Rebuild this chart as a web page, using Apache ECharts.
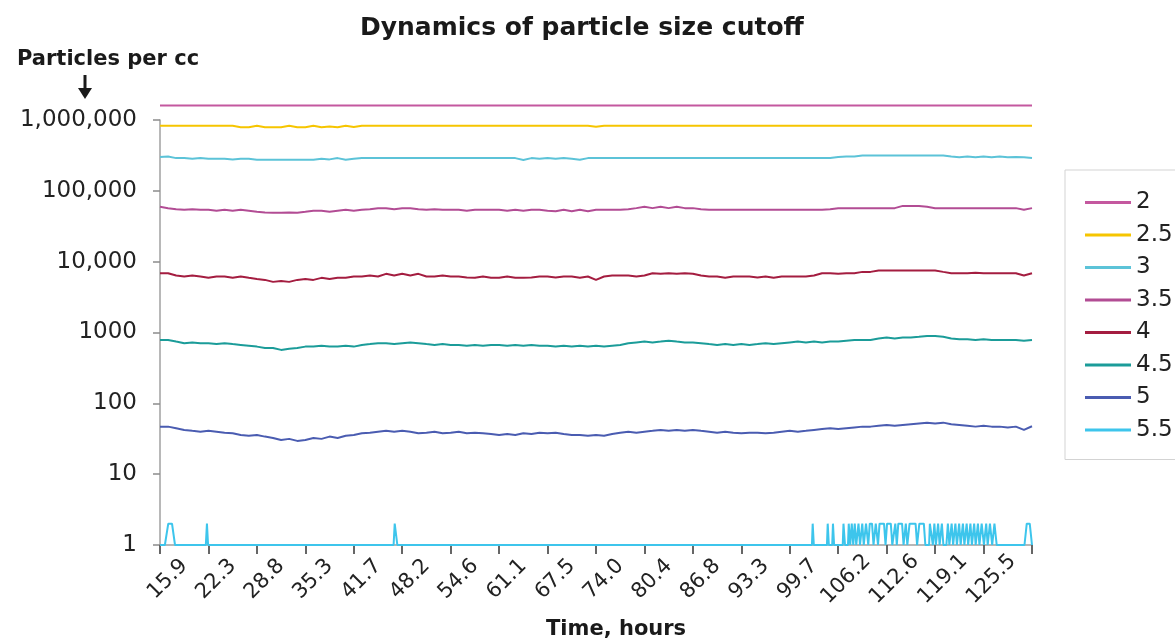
<!DOCTYPE html>
<html>
<head>
<meta charset="utf-8">
<script src="https://cdn.jsdelivr.net/npm/echarts@6/dist/echarts.min.js"></script>
<style>
  html, body { margin: 0; padding: 0; background: #fff; }
  #chart { width: 1175px; height: 640px; }
</style>
</head>
<body>
<div id="chart"></div>
<script>
// x axis: hours, one tick every 6.45 h starting at 15.9 h
var tickLabels = ['15.9', '22.3', '28.8', '35.3', '41.7', '48.2', '54.6', '61.1', '67.5',
  '74.0', '80.4', '86.8', '93.3', '99.7', '106.2', '112.6', '119.1', '125.5'];
var yTickLabels = ['1', '10', '100', '1000', '10,000', '100,000', '1,000,000'];
var startHour = 15.9;
var tickStepHours = 6.45;
var samplesPerTick = 6;   // readings per tick interval for the sampled lines

var sizes = ['2', '2.5', '3', '3.5', '4', '4.5', '5', '5.5'];
var colors = ['#c4589f', '#f6c500', '#5cc3d8', '#b24c94', '#a41d40', '#1b9c99', '#4a5cb1', '#3dc5ec'];

// 2 um: flat
var size2Hours = [15.9, 132.0];
var size2 = [1600000, 1600000];

// sampled lines, one row per tick interval (6 readings), plus the last reading
var size25 = [
  828000, 828000, 828000, 828000, 828000, 828000,
  828000, 828000, 828000, 828000, 790000, 790000,
  828000, 790000, 790000, 790000, 828000, 790000,
  790000, 828000, 790000, 810000, 790000, 828000,
  795000, 828000, 828000, 828000, 828000, 828000,
  828000, 828000, 828000, 828000, 828000, 828000,
  828000, 828000, 828000, 828000, 828000, 828000,
  828000, 828000, 828000, 828000, 828000, 828000,
  828000, 828000, 828000, 828000, 828000, 828000,
  805000, 828000, 828000, 828000, 828000, 828000,
  828000, 828000, 828000, 828000, 828000, 828000,
  828000, 828000, 828000, 828000, 828000, 828000,
  828000, 828000, 828000, 828000, 828000, 828000,
  828000, 828000, 828000, 828000, 828000, 828000,
  828000, 828000, 828000, 828000, 828000, 828000,
  828000, 828000, 828000, 828000, 828000, 828000,
  828000, 828000, 828000, 828000, 828000, 828000,
  828000, 828000, 828000, 828000, 828000, 828000,
  828000
];
var size3 = [
  300000, 305000, 289700, 289700, 283000, 289700,
  283000, 283000, 283000, 278000, 283000, 283000,
  274000, 274000, 274000, 274000, 274000, 274000,
  274000, 274000, 283000, 278000, 289700, 274000,
  283000, 289700, 289700, 289700, 289700, 289700,
  289700, 289700, 289700, 289700, 289700, 289700,
  289700, 289700, 289700, 289700, 289700, 289700,
  289700, 289700, 289700, 272000, 289700, 283000,
  289700, 283000, 289700, 283000, 274000, 289700,
  289700, 289700, 289700, 289700, 289700, 289700,
  289700, 289700, 289700, 289700, 289700, 289700,
  289700, 289700, 289700, 289700, 289700, 289700,
  289700, 289700, 289700, 289700, 289700, 289700,
  289700, 289700, 289700, 289700, 289700, 289700,
  300000, 305000, 305000, 315000, 315000, 315000,
  315000, 315000, 315000, 315000, 315000, 315000,
  315000, 315000, 305000, 297000, 305000, 297000,
  305000, 297000, 305000, 297000, 300000, 297000,
  290000
];
var size35 = [
  59400, 56970, 55000, 53950, 55000, 53950,
  53950, 52200, 53950, 52200, 53950, 52200,
  50500, 49440, 48900, 48900, 49440, 48900,
  50500, 52200, 52200, 50500, 52200, 53950,
  52200, 53950, 55000, 56970, 56970, 55000,
  56970, 56970, 55000, 53950, 55000, 53950,
  53950, 53950, 52200, 53950, 53950, 53950,
  53950, 52200, 53950, 52200, 53950, 53950,
  52200, 51500, 53950, 51500, 53950, 51500,
  53950, 53950, 53950, 53950, 55000, 57000,
  59400, 57000, 59400, 57000, 59400, 57000,
  57000, 55000, 53950, 53950, 53950, 53950,
  53950, 53950, 53950, 53950, 53950, 53950,
  53950, 53950, 53950, 53950, 53950, 55000,
  56970, 56970, 56970, 56970, 56970, 56970,
  56970, 56970, 61300, 61300, 61300, 59400,
  56970, 56970, 56970, 56970, 56970, 56970,
  56970, 56970, 56970, 56970, 56970, 53950,
  56970
];
var size4 = [
  6880, 6880, 6370, 6165, 6370, 6165,
  5907, 6165, 6165, 5907, 6165, 5907,
  5700, 5530, 5185, 5350, 5185, 5530,
  5700, 5530, 5907, 5700, 5907, 5907,
  6165, 6165, 6370, 6165, 6730, 6370,
  6730, 6370, 6730, 6165, 6165, 6370,
  6165, 6165, 6000, 5907, 6165, 5907,
  5907, 6165, 5907, 5907, 6000, 6165,
  6165, 6000, 6165, 6165, 5907, 6165,
  5530, 6165, 6370, 6370, 6370, 6165,
  6370, 6880, 6730, 6880, 6730, 6880,
  6730, 6370, 6165, 6165, 5907, 6165,
  6165, 6165, 6000, 6165, 5907, 6165,
  6165, 6165, 6165, 6370, 6880, 6880,
  6730, 6880, 6880, 7175, 7175, 7486,
  7486, 7486, 7486, 7486, 7486, 7486,
  7486, 7175, 6880, 6880, 6880, 7000,
  6880, 6880, 6880, 6880, 6880, 6370,
  6880
];
var size45 = [
  786, 786, 744, 706, 725, 706,
  706, 686, 706, 686, 668, 650,
  632, 606, 606, 568, 590, 606,
  632, 632, 650, 632, 632, 650,
  632, 668, 686, 706, 706, 686,
  706, 725, 706, 686, 668, 686,
  668, 668, 650, 668, 650, 668,
  668, 650, 668, 650, 668, 650,
  650, 632, 650, 632, 650, 632,
  650, 632, 650, 668, 706, 725,
  744, 725, 744, 766, 744, 725,
  725, 706, 686, 668, 686, 668,
  686, 668, 686, 706, 686, 706,
  725, 744, 725, 744, 725, 744,
  744, 766, 786, 786, 786, 825,
  847, 825, 847, 847, 870, 895,
  895, 870, 825, 804, 804, 786,
  804, 786, 786, 786, 786, 766,
  786
];
var size5 = [
  46.9, 46.9, 44.5, 42.1, 40.9, 39.8,
  40.9, 39.8, 38.5, 37.8, 35.8, 34.8,
  35.8, 33.9, 32.5, 30.4, 31.5, 29.5,
  30.4, 32.5, 31.5, 33.9, 32.5, 34.8,
  35.8, 37.8, 38.5, 39.8, 40.9, 39.8,
  40.9, 39.8, 37.8, 38.5, 39.8, 37.8,
  38.5, 39.8, 37.8, 38.5, 37.8, 36.8,
  35.8, 36.8, 35.8, 37.8, 36.8, 38.5,
  37.8, 38.5, 36.8, 35.8, 35.8, 34.8,
  35.8, 34.8, 36.8, 38.5, 39.8, 38.5,
  39.8, 40.9, 42.1, 40.9, 42.1, 40.9,
  42.1, 40.9, 39.8, 38.5, 39.8, 38.5,
  37.8, 38.5, 38.5, 37.8, 38.5, 39.8,
  40.9, 39.8, 40.9, 42.1, 43.3, 44.5,
  43.3, 44.5, 45.7, 46.9, 46.9, 48.2,
  49.5, 48.2, 49.5, 50.8, 52.1, 53.4,
  52.1, 53.4, 50.8, 49.5, 48.2, 46.9,
  48.2, 46.9, 46.9, 45.7, 46.9, 42.1,
  47.5
];

// 5.5 um: mostly 1 count, short bursts of 2
var size55Hours = [
  15.9, 16.55, 17.0, 17.5, 17.9, 22.0, 22.15, 22.3, 47.0, 47.15, 47.35, 47.5,
  102.7, 102.8, 102.95, 104.7, 104.8, 104.95, 105.4, 105.5, 105.65,
  106.8, 106.9, 107.1, 107.5, 107.6, 107.8, 108.0, 108.2, 108.4, 108.6, 108.9, 109.1,
  109.4, 109.6, 109.9, 110.2, 110.4, 110.7, 110.9, 111.2, 111.5, 111.7, 112.3,
  112.5, 112.7, 113.2, 113.4, 113.8, 114.0, 114.2, 114.7, 114.9, 115.2, 115.4, 115.6, 115.7, 116.5, 116.7,
  116.9, 117.0, 117.6, 117.8, 118.3, 118.4, 118.8, 119.0, 119.2, 119.5, 119.7,
  120.0, 120.2, 120.6, 120.8, 121.0, 121.3, 121.5, 121.8, 122.0, 122.3, 122.5,
  122.8, 123.0, 123.3, 123.5, 123.8, 124.0, 124.3, 124.5, 124.8, 125.0, 125.3,
  125.6, 125.9, 126.1, 126.4, 126.7, 127.0, 127.3, 131.0, 131.3, 131.7, 132.0
];
var size55 = [
  1, 1, 2, 2, 1, 1, 2, 1, 1, 2, 2, 1,
  1, 2, 1, 1, 2, 1, 1, 2, 1,
  1, 2, 1, 1, 2, 1, 2, 1, 2, 1, 2, 1,
  2, 1, 2, 1, 2, 2, 1, 2, 1, 2, 2,
  1, 2, 2, 1, 2, 1, 2, 2, 1, 2, 1, 1, 2, 2, 1,
  1, 2, 2, 1, 1, 2, 1, 2, 1, 2, 1,
  2, 1, 1, 2, 1, 2, 1, 2, 1, 2, 1,
  2, 1, 2, 1, 2, 1, 2, 1, 2, 1, 2,
  1, 2, 1, 2, 1, 2, 1, 1, 2, 2, 1
];

var FONT = 'DejaVu Sans';

// x values are hours past the first tick, so the axis starts at 0
function sampled(values) {
  return values.map(function (v, i) { return [i * tickStepHours / samplesPerTick, v]; });
}
function byHour(hours, values) {
  return hours.map(function (h, i) { return [h - startHour, values[i]]; });
}

var seriesData = [
  byHour(size2Hours, size2),
  sampled(size25),
  sampled(size3),
  sampled(size35),
  sampled(size4),
  sampled(size45),
  sampled(size5),
  byHour(size55Hours, size55)
];

var myChart = echarts.init(document.getElementById('chart'));
var option = {
  animation: false,
  backgroundColor: '#fff',
  title: [
    {
      text: 'Dynamics of particle size cutoff',
      left: 355, top: 11,
      textStyle: {fontFamily: FONT, fontSize: 25, fontWeight: 'bold', color: '#1a1a1a'}
    },
    {
      text: 'Particles per cc',
      left: 12, top: 44,
      textStyle: {fontFamily: FONT, fontSize: 21, fontWeight: 'bold', color: '#1a1a1a'}
    },
    {
      text: 'Time, hours',
      left: 541, top: 614,
      textStyle: {fontFamily: FONT, fontSize: 21, fontWeight: 'bold', color: '#1a1a1a'}
    }
  ],
  graphic: [
    {type: 'rect', shape: {x: 83.5, y: 75, width: 3, height: 15}, style: {fill: '#1a1a1a'}},
    {type: 'polygon', shape: {points: [[78, 88], [92, 88], [85, 99]]}, style: {fill: '#1a1a1a'}}
  ],
  legend: {
    orient: 'vertical',
    left: 1065, top: 170,
    padding: [21, 24, 18, 20],
    icon: 'rect',
    itemWidth: 46, itemHeight: 3,
    itemGap: 9.5,
    borderColor: '#d3d3d3', borderWidth: 1,
    textStyle: {fontFamily: FONT, fontSize: 23, color: '#222'},
    data: sizes
  },
  grid: {left: 160, right: 143, top: 120, bottom: 95},
  xAxis: {
    type: 'value',
    min: 0,
    max: Math.round(tickStepHours * tickLabels.length * 100) / 100,
    interval: tickStepHours,
    splitLine: {show: false},
    axisLine: {show: true, onZero: false, lineStyle: {color: '#a0a0a0', width: 1.5}},
    axisTick: {show: true, length: 9, lineStyle: {color: '#666', width: 2}},
    axisLabel: {
      rotate: 45,
      align: 'center',
      verticalAlign: 'middle',
      padding: [0, 0, 0, 22],
      margin: 42,
      fontFamily: FONT, fontSize: 21, color: '#222',
      formatter: function (v) {
        return tickLabels[Math.round(v / tickStepHours)] || '';
      }
    }
  },
  yAxis: {
    type: 'log',
    logBase: 10,
    min: 1, max: 1000000,
    splitNumber: 6,
    splitLine: {show: false},
    axisLine: {show: true, lineStyle: {color: '#a0a0a0', width: 1.5}},
    axisTick: {show: true, length: 7, lineStyle: {color: '#8c8c8c', width: 1.5}},
    minorTick: {show: false},
    axisLabel: {
      margin: 23,
      fontFamily: FONT, fontSize: 23, color: '#222',
      formatter: function (v) {
        return yTickLabels[Math.round(Math.log10(v))];
      }
    }
  },
  series: sizes.map(function (name, i) {
    return {
      name: name,
      type: 'line',
      data: seriesData[i],
      color: colors[i],
      showSymbol: false,
      symbol: 'none',
      clip: false,
      z: i === 7 ? 5 : 2,
      lineStyle: {width: 2, color: colors[i]}
    };
  })
};
myChart.setOption(option);
</script>
</body>
</html>
